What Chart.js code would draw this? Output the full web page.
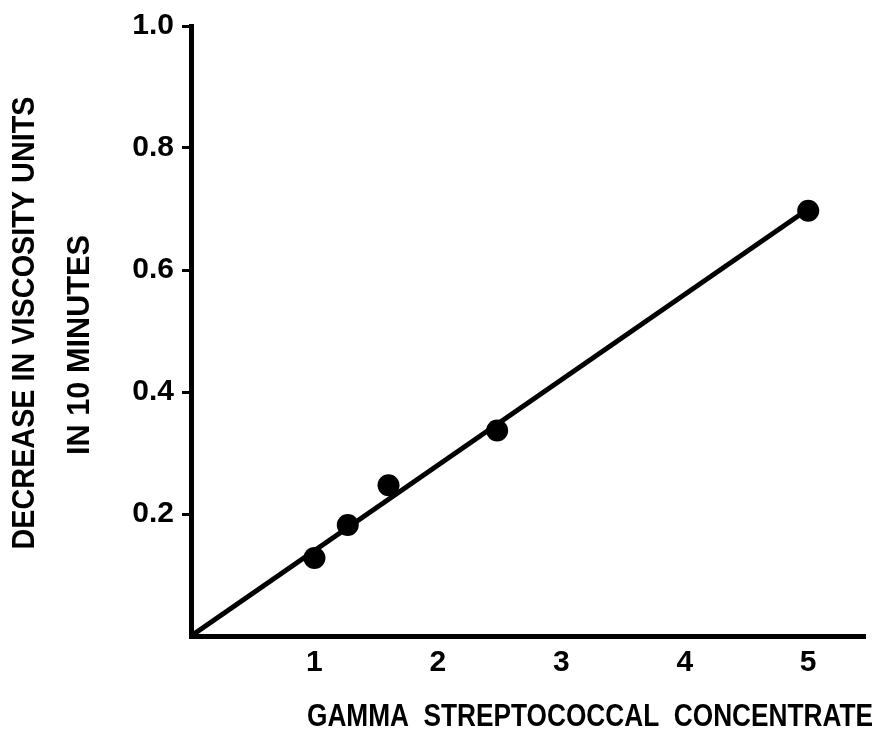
<!DOCTYPE html>
<html><head><meta charset="utf-8">
<script src="https://cdn.jsdelivr.net/npm/chart.js@4"></script>
<style>html,body{margin:0;padding:0;background:#fff}</style>
</head><body>
<canvas id="c" width="883" height="731" style="width:883px;height:731px;display:block"></canvas>
<script>
const concentration = [1.0, 1.27, 1.6, 2.48, 5.0];
const viscosityDecrease = [0.128, 0.182, 0.247, 0.337, 0.697];
const fitX = [0, 5];
const fitY = [0, 0.70];
const xTicks = [1, 2, 3, 4, 5];
const yTicks = [0.2, 0.4, 0.6, 0.8, 1.0];
const xTitle = 'GAMMA  STREPTOCOCCAL  CONCENTRATE';
const yTitleLines = ['DECREASE IN VISCOSITY UNITS', 'IN 10 MINUTES'];

const FONT = '"Liberation Sans", "DejaVu Sans", Arial, sans-serif';

function fittedText(ctx, text, cx, cy, length, rotate) {
  ctx.save();
  ctx.fillStyle = '#000';
  ctx.font = 'bold 31px ' + FONT;
  ctx.textAlign = 'center';
  ctx.textBaseline = 'middle';
  const w = ctx.measureText(text).width;
  ctx.translate(cx, cy);
  if (rotate) ctx.rotate(-Math.PI / 2);
  ctx.scale(length / w, 1);
  ctx.fillText(text, 0, 1);
  ctx.restore();
}

const titlesPlugin = {
  id: 'titles',
  afterDraw(chart) {
    const ctx = chart.ctx;
    const a = chart.chartArea;
    fittedText(ctx, xTitle, a.left + 399, a.bottom + 80, 566, false);
    fittedText(ctx, yTitleLines[0], a.left - 167, a.top + 297, 453, true);
    fittedText(ctx, yTitleLines[1], a.left - 112, a.top + 319, 220, true);
  }
};

new Chart(document.getElementById('c'), {
  type: 'scatter',
  data: {
    datasets: [
      {
        label: 'fit',
        data: fitX.map((x, i) => ({ x, y: fitY[i] })),
        showLine: true,
        borderColor: '#000',
        borderWidth: 5,
        pointRadius: 0,
        fill: false
      },
      {
        label: 'data',
        data: concentration.map((x, i) => ({ x, y: viscosityDecrease[i] })),
        showLine: false,
        pointRadius: 11,
        pointHoverRadius: 11,
        backgroundColor: '#000',
        borderColor: '#000',
        borderWidth: 0
      }
    ]
  },
  options: {
    responsive: false,
    animation: false,
    layout: { padding: { top: 24, right: 18, left: 0, bottom: 0 } },
    plugins: { legend: { display: false }, tooltip: { enabled: false } },
    scales: {
      x: {
        type: 'linear',
        min: 0,
        max: 5.46,
        afterBuildTicks(s) { s.ticks = xTicks.map(v => ({ value: v })); },
        afterFit(s) { s.height = 95; },
        grid: { display: false, drawTicks: false },
        border: { display: true, color: '#000', width: 5 },
        ticks: {
          color: '#000',
          padding: 9,
          font: { family: FONT, size: 30, weight: 'bold' },
          callback: v => String(v)
        }
      },
      y: {
        type: 'linear',
        min: 0,
        max: 1.0,
        afterBuildTicks(s) { s.ticks = yTicks.map(v => ({ value: v })); },
        afterFit(s) { s.width = 191; },
        grid: { display: true, drawOnChartArea: false, drawTicks: true, tickLength: 9, tickWidth: 3, tickColor: '#000', color: '#000' },
        border: { display: true, color: '#000', width: 5 },
        ticks: {
          color: '#000',
          padding: 8,
          font: { family: FONT, size: 30, weight: 'bold' },
          callback: v => v.toFixed(1)
        }
      }
    }
  },
  plugins: [titlesPlugin]
});
</script>
</body></html>
